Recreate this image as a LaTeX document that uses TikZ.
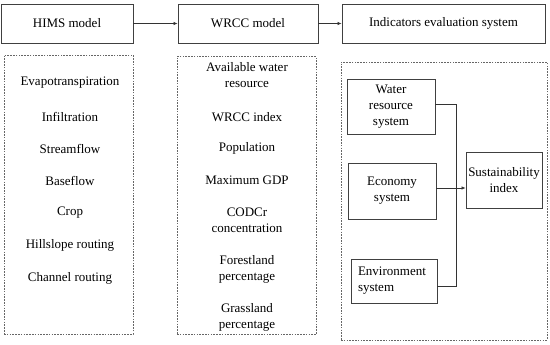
\documentclass[tikz,border=0pt]{standalone}
\usepackage{fontspec}
\setmainfont{Liberation Serif}
\usetikzlibrary{arrows.meta}
\begin{document}
\begin{tikzpicture}[x=1pt,y=-1pt,
  font=\fontsize{13}{16}\selectfont,
  boxn/.style={draw=black!75,line width=0.8pt,minimum width=#1,inner sep=1pt,align=center},
  dbox/.style={draw=black!60,line width=0.8pt,dash pattern=on 1.6pt off 1.2pt},
  item/.style={inner sep=0pt,align=center},
  conn/.style={draw=black!80,line width=0.7pt},
  arr/.style={conn,-{Latex[length=4pt,width=3.5pt]}}
]
\useasboundingbox (0,0) rectangle (550,345);
% top row
\node[boxn=132,minimum height=39] (hims) at (67,23.5) {HIMS model};
\node[boxn=140,minimum height=39] (wrcc) at (248,23.5) {WRCC model};
\node[boxn=203,minimum height=39] (ind) at (443.5,23.5) {Indicators evaluation system};
\draw[arr] (hims) -- (wrcc);
\draw[arr] (wrcc) -- (ind);
% dashed frames
\node[dbox,minimum width=129,minimum height=279] (fl) at (68.5,194.5) {};
\node[dbox,minimum width=139,minimum height=278] (fm) at (246.5,195.5) {};
\node[dbox,minimum width=206,minimum height=278] (fr) at (444,201) {};
% left list
\node[item] (l1) at (70,83) {Evapotranspiration};
\node[item] (l2) at (70,117) {Infiltration};
\node[item] (l3) at (70,149) {Streamflow};
\node[item] (l4) at (70,181) {Baseflow};
\node[item] (l5) at (70,213) {Crop};
\node[item] (l6) at (70,245) {Hillslope routing};
\node[item] (l7) at (70,278) {Channel routing};
% middle list
\node[item] (m1) at (247,75.5) {Available water\\resource};
\node[item] (m2) at (247,117) {WRCC index};
\node[item] (m3) at (247,148) {Population};
\node[item] (m4) at (247,180) {Maximum GDP};
\node[item] (m5) at (247,220.5) {CODCr\\concentration};
\node[item] (m6) at (247,269.5) {Forestland\\percentage};
\node[item] (m7) at (247,317.5) {Grassland\\percentage};
% right panel
\node[boxn=88,minimum height=55] (wat) at (391,106.5) {Water\\resource\\system};
\node[boxn=88,minimum height=56] (eco) at (392,191) {Economy\\system};
\node[boxn=86,minimum height=44,align=left,text width=72] (env) at (394,281) {Environment\\system};
\node[boxn=76,minimum height=56,inner sep=0pt] (sus) at (504,180) {Sustainability\\index};
\coordinate (jt) at (456,104);
\coordinate (jb) at (456,286);
\draw[conn] ([yshift=2.5]wat.east) -- (jt) -- (jb) -- ([yshift=-5]env.east);
\draw[arr] ([yshift=3]eco.east) -- ([yshift=3]eco.east -| sus.west);
\end{tikzpicture}
\end{document}
